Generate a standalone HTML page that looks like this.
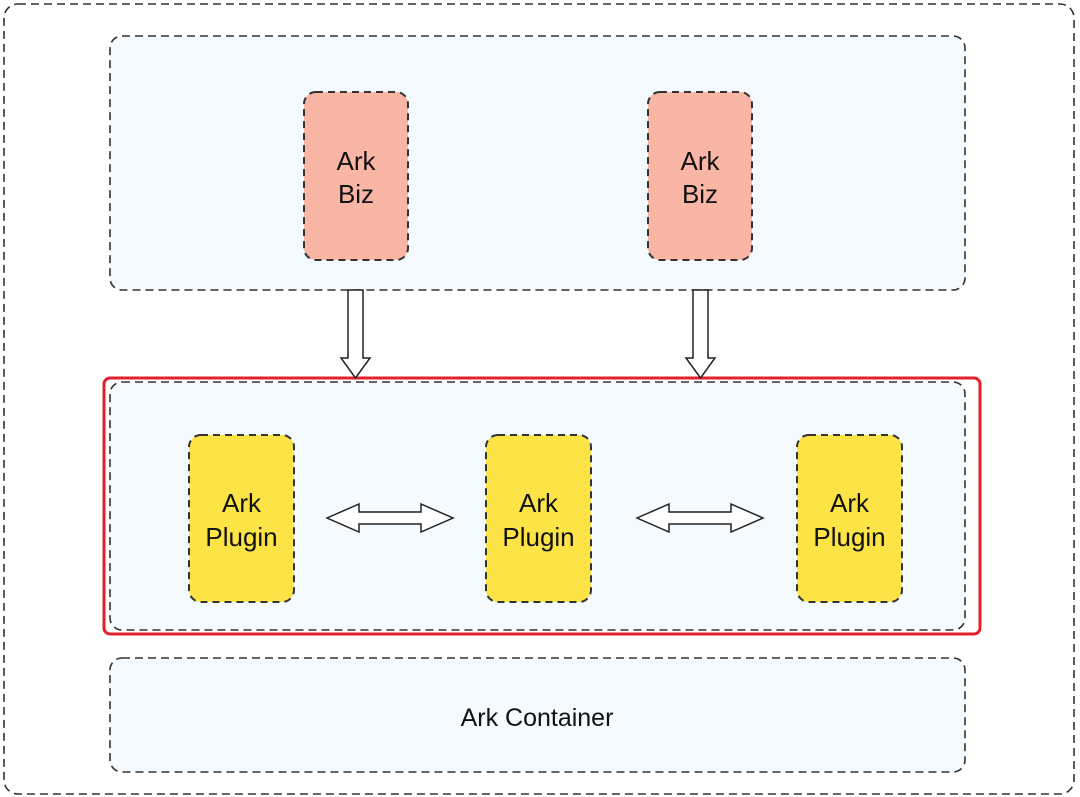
<!DOCTYPE html>
<html><head><meta charset="utf-8"><style>
html,body{margin:0;padding:0;background:#fff;}
svg{display:block;}
text{font-family:"Liberation Sans",Arial,sans-serif;fill:#111;}
</style></head><body>
<svg width="1080" height="797" viewBox="0 0 1080 797" xmlns="http://www.w3.org/2000/svg">
<g fill="none" stroke="#333" stroke-width="1.6" stroke-dasharray="8,5">
<rect x="4" y="4" width="1070" height="790" rx="14"/>
</g>
<rect x="110" y="36" width="855" height="254" rx="12" fill="#f4fafd" stroke="#333" stroke-width="1.6" stroke-dasharray="8,5"/>
<rect x="304" y="92" width="104" height="168" rx="12" fill="#f9b6a5" stroke="#333" stroke-width="2" stroke-dasharray="7,5"/>
<rect x="648" y="92" width="104" height="168" rx="12" fill="#f9b6a5" stroke="#333" stroke-width="2" stroke-dasharray="7,5"/>
<text x="356" y="170" font-size="26" text-anchor="middle">Ark</text>
<text x="356" y="203" font-size="26" text-anchor="middle">Biz</text>
<text x="700" y="170" font-size="26" text-anchor="middle">Ark</text>
<text x="700" y="203" font-size="26" text-anchor="middle">Biz</text>
<rect x="110" y="382" width="855" height="248" rx="12" fill="#f4fafd" stroke="#333" stroke-width="1.6" stroke-dasharray="8,5"/>
<rect x="104" y="378" width="876" height="256" rx="6" fill="none" stroke="#e0202a" stroke-width="3"/>
<polygon points="348,290 363,290 363,358 370,358 355.5,378 341,358 348,358" fill="#fff" stroke="#222" stroke-width="1.5"/>
<polygon points="693,290 708,290 708,358 715,358 700.5,378 686,358 693,358" fill="#fff" stroke="#222" stroke-width="1.5"/>
<g fill="#fde446" stroke="#333" stroke-width="2" stroke-dasharray="7,5">
<rect x="189" y="435" width="105" height="167" rx="12"/>
<rect x="486" y="435" width="105" height="167" rx="12"/>
<rect x="797" y="435" width="105" height="167" rx="12"/>
</g>
<text x="241.5" y="512" font-size="26" text-anchor="middle">Ark</text>
<text x="241.5" y="546" font-size="26" text-anchor="middle">Plugin</text>
<text x="538.5" y="512" font-size="26" text-anchor="middle">Ark</text>
<text x="538.5" y="546" font-size="26" text-anchor="middle">Plugin</text>
<text x="849.5" y="512" font-size="26" text-anchor="middle">Ark</text>
<text x="849.5" y="546" font-size="26" text-anchor="middle">Plugin</text>
<polygon points="327,518 359,504 359,512 421,512 421,504 453,518 421,532 421,524 359,524 359,532" fill="#fff" stroke="#222" stroke-width="1.5"/>
<polygon points="637,518 669,504 669,512 731,512 731,504 763,518 731,532 731,524 669,524 669,532" fill="#fff" stroke="#222" stroke-width="1.5"/>
<rect x="110" y="658" width="855" height="114" rx="12" fill="#f4fafd" stroke="#333" stroke-width="1.6" stroke-dasharray="8,5"/>
<text x="537" y="726" font-size="25" text-anchor="middle">Ark Container</text>
</svg>
</body></html>
